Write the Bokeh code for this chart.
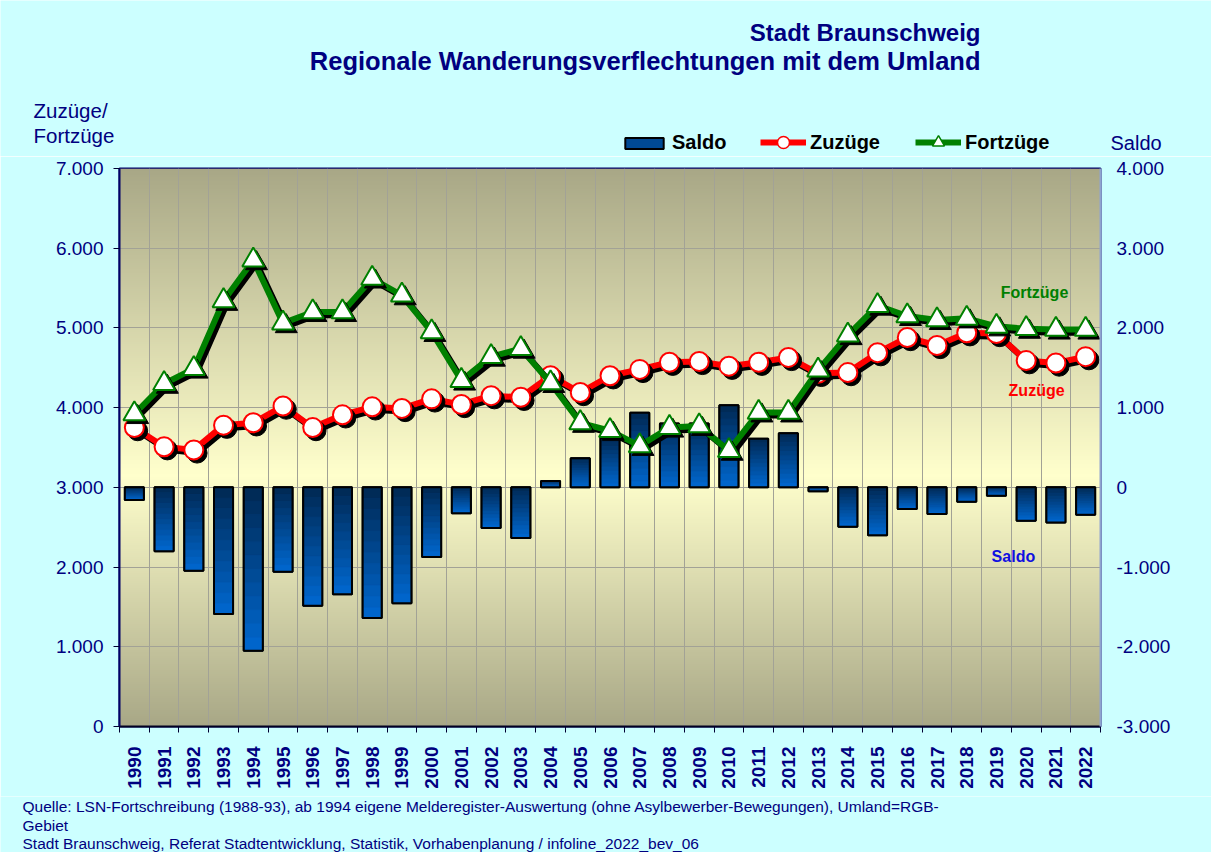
import numpy as np
from bokeh.plotting import figure
from bokeh.layouts import column
from bokeh.models import (Range1d, LinearAxis, FixedTicker, Label, Legend,
                          LegendItem, ColumnDataSource)
from bokeh.core.properties import value
from bokeh.transform import dodge
from bokeh.embed import file_html
from bokeh.resources import INLINE

# ---------------- data ----------------
years = list(range(1990, 2023))
zuzuege = [3750, 3510, 3470, 3780, 3810, 4020, 3750, 3910, 4010, 3990,
           4110, 4040, 4150, 4130, 4400, 4190, 4400, 4480, 4570, 4580,
           4520, 4570, 4630, 4430, 4440, 4690, 4880, 4780, 4940, 4930,
           4590, 4560, 4640]
fortzuege = [3920, 4300, 4490, 5340, 5850, 5060, 5200, 5200, 5620, 5410,
             4950, 4340, 4640, 4740, 4310, 3810, 3710, 3520, 3750, 3770,
             3460, 3940, 3940, 4470, 4910, 5280, 5150, 5100, 5120, 5020,
             4990, 4980, 4980]
saldo = [-160, -800, -1045, -1590, -2050, -1060, -1485, -1340, -1640, -1455,
         -875, -325, -510, -635, 80, 365, 620, 935, 800, 800,
         1030, 610, 680, -50, -495, -600, -270, -335, -180, -105,
         -420, -440, -345]
left_ticks = [0, 1000, 2000, 3000, 4000, 5000, 6000, 7000]
left_tick_labels = ["0", "1.000", "2.000", "3.000", "4.000", "5.000", "6.000", "7.000"]
right_ticks = [-3000, -2000, -1000, 0, 1000, 2000, 3000, 4000]
right_tick_labels = ["-3.000", "-2.000", "-1.000", "0", "1.000", "2.000", "3.000", "4.000"]

title_lines = ["Stadt Braunschweig", "Regionale Wanderungsverflechtungen mit dem Umland"]
footer_lines = ["Quelle: LSN-Fortschreibung (1988-93), ab 1994 eigene Melderegister-Auswertung (ohne Asylbewerber-Bewegungen), Umland=RGB-",
                "Gebiet",
                "Stadt Braunschweig, Referat Stadtentwicklung, Statistik, Vorhabenplanung / infoline_2022_bev_06"]

FONT = "Liberation Sans"
NAVY = "#000080"
GRID = "#A2A296"
BG = "#CCFFFF"
W = 1211
RED = "#FF0000"
GREEN = "#008000"
BAR_FILL = "#004A94"


def blank_fig(height):
    f = figure(width=W, height=height, frame_width=W, frame_height=height,
               min_border=0, x_range=Range1d(0, W), y_range=Range1d(height, 0),
               x_axis_location=None, y_axis_location=None, title=None,
               output_backend="svg", toolbar_location=None,
               border_fill_color=BG, background_fill_color=BG,
               outline_line_color=None, frame_align=False)
    f.grid.grid_line_color = None
    return f


# ================= header =================
HH = 156
head = blank_fig(HH)
head.text(x=[980], y=[32], text=title_lines[:1], text_align="right",
          text_baseline="middle", text_font=value(FONT), text_font_style="bold",
          text_font_size="24px", text_color=NAVY)
head.text(x=[980], y=[60], text=title_lines[1:], text_align="right",
          text_baseline="middle", text_font=value(FONT), text_font_style="bold",
          text_font_size="25.5px", text_color=NAVY)
head.text(x=[33, 33], y=[110, 135], text=["Zuzüge/", "Fortzüge"], text_align="left",
          text_baseline="middle", text_font=value(FONT), text_font_size="20.5px",
          text_color=NAVY)
head.text(x=[1110], y=[142], text=["Saldo"], text_align="left",
          text_baseline="middle", text_font=value(FONT), text_font_size="20px",
          text_color=NAVY)

# legend glyph prototypes: the real series, but lying outside this strip's ranges
leg_src = ColumnDataSource(dict(year=years, zuz=zuzuege, fort=fortzuege, saldo=saldo))
lg_bar = head.vbar(x="year", top="zuz", bottom="fort", width=0.64, source=leg_src,
                   fill_color=BAR_FILL, line_color="black", line_width=2)
lg_zl = head.line(x="year", y="zuz", source=leg_src, line_color=RED, line_width=6)
lg_zp = head.scatter(x="year", y="zuz", source=leg_src, marker="circle", size=12,
                     fill_color="white", line_color=RED, line_width=1.5)
lg_fl = head.line(x="year", y="fort", source=leg_src, line_color=GREEN, line_width=6)
lg_fp = head.scatter(x="year", y="fort", source=leg_src, marker="triangle", size=12,
                     fill_color="white", line_color=GREEN, line_width=1.5)


def make_legend(label, renderers, vx, vy, gw, gh):
    return Legend(items=[LegendItem(label=label, renderers=renderers)],
                  location=(vx, vy), orientation="horizontal",
                  glyph_width=gw, glyph_height=gh, label_standoff=4,
                  padding=0, margin=0, border_line_color=None,
                  background_fill_alpha=0,
                  label_text_font=FONT, label_text_font_style="bold",
                  label_text_font_size="20px", label_text_color="black")


head.add_layout(make_legend("Saldo", [lg_bar], 620, 2, 48, 14))
head.add_layout(make_legend("Zuzüge", [lg_zl, lg_zp], 760, -1, 46, 30))
head.add_layout(make_legend("Fortzüge", [lg_fl, lg_fp], 915, -1, 46, 30))

# ================= main chart =================
p = figure(frame_width=981, frame_height=558,
           min_border_left=119, min_border_right=111,
           min_border_top=12, min_border_bottom=70,
           x_range=Range1d(1989.5, 2022.5), y_range=Range1d(0, 7000),
           output_backend="svg", toolbar_location=None, title=None,
           border_fill_color=BG, background_fill_color="#EEEDC0",
           outline_line_color="#000066", outline_line_width=2, frame_align=False)
p.extra_y_ranges = {"saldo": Range1d(-3000, 4000)}

# plot-area gradient (decoration)
n = 280
pos = (np.arange(n) + 0.5) / n
peak = 0.45
t = np.where(pos < peak, (peak - pos) / peak, (pos - peak) / (1 - peak))
light = np.array([255, 255, 204], dtype=float)
dark = np.array([168, 167, 134], dtype=float)
rgb = light[None, :] * (1 - t[:, None]) + dark[None, :] * t[:, None]
img = np.zeros((n, 1), dtype=np.uint32)
view = img.view(dtype=np.uint8).reshape((n, 1, 4))
view[:, 0, 0:3] = np.round(rgb).astype(np.uint8)
view[:, 0, 3] = 255
p.image_rgba(image=[img], x=1989.5, y=0, dw=33, dh=7000, level="image")

# axes & grid
boundaries = [y - 0.5 for y in years] + [years[-1] + 0.5]
p.xaxis.ticker = FixedTicker(ticks=years, minor_ticks=boundaries)
p.xaxis.major_tick_out = 0
p.xaxis.major_tick_in = 0
p.xaxis.minor_tick_out = 6
p.xaxis.minor_tick_in = 0
p.xaxis.minor_tick_line_color = "#000033"
p.xaxis.axis_line_color = "#000022"
p.xaxis.axis_line_width = 2
p.xaxis.major_label_orientation = np.pi / 2
p.xaxis.major_label_text_font = FONT
p.xaxis.major_label_text_font_style = "bold"
p.xaxis.major_label_text_font_size = "19px"
p.xaxis.major_label_text_color = NAVY
p.xaxis.major_label_standoff = 14

p.xgrid.grid_line_color = None
p.xgrid.minor_grid_line_color = GRID
p.ygrid.grid_line_color = GRID

p.yaxis.ticker = FixedTicker(ticks=left_ticks)
p.yaxis.major_label_overrides = dict(zip(left_ticks, left_tick_labels))
p.yaxis.major_tick_out = 6
p.yaxis.major_tick_in = 0
p.yaxis.major_tick_line_color = "#000033"
p.yaxis.minor_tick_line_color = None
p.yaxis.axis_line_color = "#000066"
p.yaxis.axis_line_width = 2
p.yaxis.major_label_text_font = FONT
p.yaxis.major_label_text_font_size = "19px"
p.yaxis.major_label_text_color = NAVY
p.yaxis.major_label_standoff = 10

raxis = LinearAxis(y_range_name="saldo", ticker=FixedTicker(ticks=right_ticks),
                   major_label_overrides=dict(zip(right_ticks, right_tick_labels)),
                   major_tick_out=0, major_tick_in=0, minor_tick_line_color=None,
                   axis_line_color="#8FA3CF", axis_line_width=2,
                   major_label_text_font=FONT, major_label_text_font_size="19px",
                   major_label_text_color=NAVY, major_label_standoff=16)
p.add_layout(raxis, "right")

# Saldo bars with a vertical gradient
BW = 0.64
bar_src = ColumnDataSource(dict(year=years,
                                top=[max(0, v) for v in saldo],
                                bottom=[min(0, v) for v in saldo]))
p.vbar(x="year", top="top", bottom="bottom", width=BW, source=bar_src,
       y_range_name="saldo", fill_color=BAR_FILL, line_color="black", line_width=2)

K = 12
c_top = np.array([0, 40, 82], dtype=float)
c_bot = np.array([0, 104, 208], dtype=float)
sx, st, sb, sc = [], [], [], []
for yr, v in zip(years, saldo):
    T, B = max(0, v), min(0, v)
    for i in range(K):
        sx.append(yr)
        st.append(T - (T - B) * i / K)
        sb.append(T - (T - B) * (i + 1) / K)
        f = (i + 0.5) / K
        c = np.round(c_top * (1 - f) + c_bot * f).astype(int)
        sc.append("#%02x%02x%02x" % tuple(c))
p.vbar(x=sx, top=st, bottom=sb, width=BW, fill_color=sc, line_color=sc,
       line_width=0.6, y_range_name="saldo")
p.vbar(x="year", top="top", bottom="bottom", width=BW, source=bar_src,
       y_range_name="saldo", fill_color=None, line_color="black", line_width=2)

# lines with drop shadows
src = ColumnDataSource(dict(year=years, zuz=zuzuege, fort=fortzuege))
DX, DY = 0.11, -40

p.line(x=dodge("year", DX, range=p.x_range), y=dodge("zuz", DY, range=p.y_range),
       source=src, line_color="black", line_width=6)
p.line("year", "zuz", source=src, line_color=RED, line_width=6)
p.scatter(x=dodge("year", DX, range=p.x_range), y=dodge("zuz", DY, range=p.y_range),
          source=src, marker="circle", size=20, fill_color="black", line_color="black")
p.scatter("year", "zuz", source=src, marker="circle", size=19,
          fill_color="white", line_color=RED, line_width=2)

p.line(x=dodge("year", DX, range=p.x_range), y=dodge("fort", DY, range=p.y_range),
       source=src, line_color="black", line_width=6)
p.line("year", "fort", source=src, line_color=GREEN, line_width=6)
p.scatter(x=dodge("year", DX, range=p.x_range), y=dodge("fort", DY, range=p.y_range),
          source=src, marker="triangle", size=22, fill_color="black", line_color="black")
p.scatter("year", "fort", source=src, marker="triangle", size=22,
          fill_color="white", line_color=GREEN, line_width=2)


def add_label(x, y, text, color, yr="default"):
    p.add_layout(Label(x=x, y=y, text=text, text_align="center", text_baseline="middle",
                       text_font=FONT, text_font_size="16px", text_font_style="bold",
                       text_color=color, y_range_name=yr))


add_label(2020.28, 5445, "Fortzüge", GREEN)
add_label(2020.35, 4215, "Zuzüge", RED)
add_label(2019.57, -867, "Saldo", "#1010E0", "saldo")

# ================= footer =================
FH = 56
foot = blank_fig(FH)
foot.text(x=[22, 22, 22], y=[10, 29, 47], text=footer_lines, text_align="left",
          text_baseline="middle", text_font=value(FONT), text_font_size="15.5px",
          text_color=NAVY)

layout = column(head, p, foot, spacing=0)
open("out.html", "w").write(file_html(layout, INLINE))
